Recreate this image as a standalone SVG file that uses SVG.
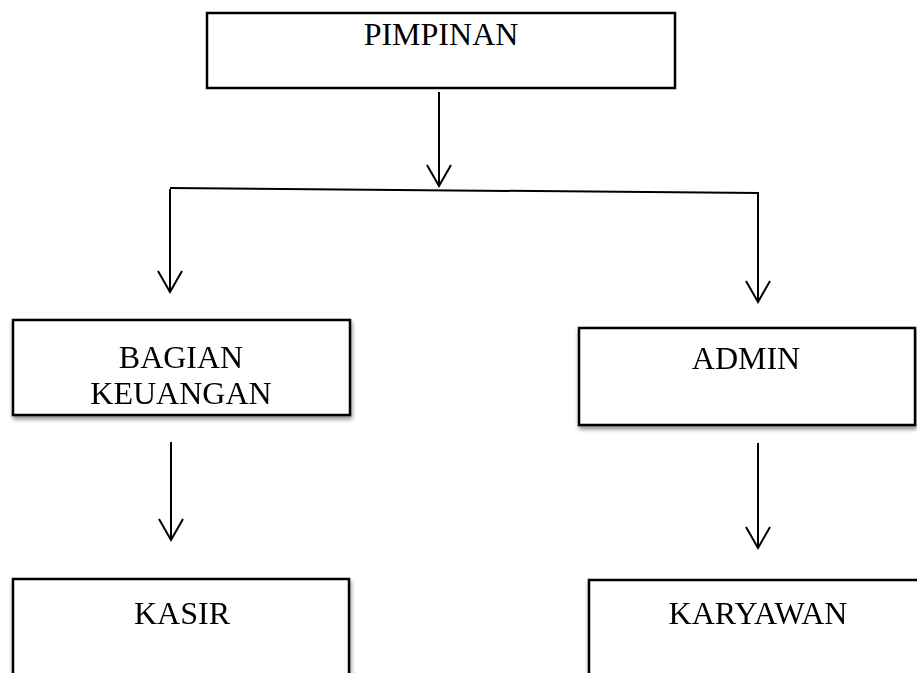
<svg xmlns="http://www.w3.org/2000/svg" width="917" height="673" viewBox="0 0 917 673">
  <style>
    .box { fill: #ffffff; stroke: #000000; stroke-width: 2.5; }
    .lbl { font-family: "Liberation Serif", "Times New Roman", serif; font-size: 32px; fill: #000000; text-anchor: middle; }
    .ln { fill: none; stroke: #000000; stroke-width: 2; }
  </style>
  <defs>
    <marker id="arrow" markerUnits="userSpaceOnUse" markerWidth="40" markerHeight="40" viewBox="-30 -20 40 40" refX="0" refY="0" orient="auto">
      <path d="M-21,-12 L0,0 L-21,12" fill="none" stroke="#000" stroke-width="2"/>
    </marker>
    <filter id="shadow" x="-10%" y="-10%" width="120%" height="130%">
      <feGaussianBlur in="SourceAlpha" stdDeviation="2"/>
      <feOffset dx="1" dy="3" result="b"/>
      <feComponentTransfer><feFuncA type="linear" slope="0.45"/></feComponentTransfer>
      <feMerge><feMergeNode/><feMergeNode in="SourceGraphic"/></feMerge>
    </filter>
  </defs>

  <g id="connectors">
    <line class="ln" x1="439" y1="92" x2="439" y2="186" marker-end="url(#arrow)"/>
    <line class="ln" x1="170" y1="188" x2="759" y2="193"/>
    <line class="ln" x1="170" y1="189" x2="170" y2="292" marker-end="url(#arrow)"/>
    <line class="ln" x1="758" y1="193" x2="758" y2="302" marker-end="url(#arrow)"/>
    <line class="ln" x1="171" y1="442" x2="171" y2="540" marker-end="url(#arrow)"/>
    <line class="ln" x1="758" y1="443" x2="758" y2="548" marker-end="url(#arrow)"/>
  </g>

  <g id="pimpinan">
    <rect class="box" x="207" y="13" width="468" height="75"/>
    <text class="lbl" x="441" y="45">PIMPINAN</text>
  </g>

  <g id="bagian-keuangan" filter="url(#shadow)">
    <rect class="box" x="13" y="320" width="337" height="95"/>
    <text class="lbl" x="181" y="368">BAGIAN</text>
    <text class="lbl" x="181" y="404">KEUANGAN</text>
  </g>

  <g id="admin" filter="url(#shadow)">
    <rect class="box" x="579" y="328" width="336" height="97"/>
    <text class="lbl" x="746" y="369">ADMIN</text>
  </g>

  <g id="kasir" filter="url(#shadow)">
    <rect class="box" x="13" y="579" width="336" height="110"/>
    <text class="lbl" x="182" y="624">KASIR</text>
  </g>

  <g id="karyawan" filter="url(#shadow)">
    <rect class="box" x="589" y="580" width="340" height="110"/>
    <text class="lbl" x="758" y="624">KARYAWAN</text>
  </g>
</svg>
